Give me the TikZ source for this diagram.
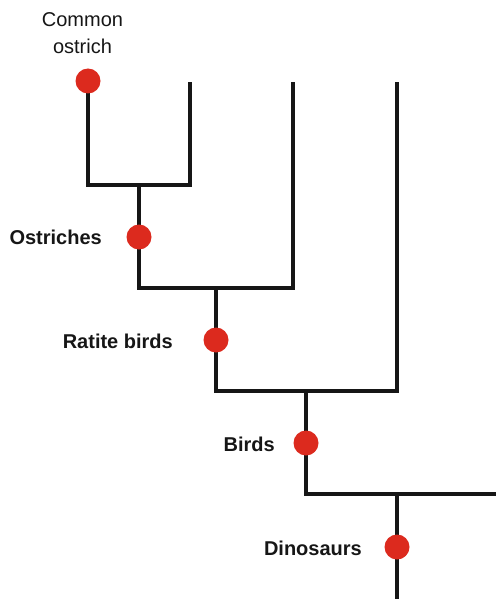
\documentclass[tikz,border=0pt]{standalone}
\usepackage{fontspec}
\setmainfont{Liberation Sans}
\definecolor{treeblack}{HTML}{161616}
\definecolor{dotred}{HTML}{DC2A1E}
\begin{document}
\begin{tikzpicture}[x=1pt,y=-1pt,
  branch/.style={draw=treeblack,line width=4pt,line join=miter},
  dot/.style={circle,fill=dotred,minimum size=25pt,inner sep=0pt},
  clade/.style={anchor=base east,font=\fontsize{20}{27}\selectfont\bfseries,text=treeblack,inner sep=0pt},
  leaflabel/.style={anchor=base,align=center,font=\fontsize{20}{27}\selectfont,text=treeblack,inner sep=0pt}]
\useasboundingbox (0,0) rectangle (496,599);
% leaf tips
\coordinate (l1) at (88,82);
\coordinate (l2) at (190,82);
\coordinate (l3) at (293,82);
\coordinate (l4) at (397,82);
% junctions
\coordinate (j1) at (139,185);
\coordinate (j2) at (216,288);
\coordinate (j3) at (306,391);
\coordinate (j4) at (397,494);
\coordinate (rightend) at (496,494);
\coordinate (root) at (397,599);
% branches
\path[branch] (l1) |- (j1) -| (l2);
\path[branch] (j1) |- (j2) -| (l3);
\path[branch] (j2) |- (j3) -| (l4);
\path[branch] (j3) |- (j4) -- (rightend);
\path[branch] (j4) -- (root);
% dots
\node[dot] (dco) at (88,81) {};
\node[dot] (dos) at (139,237) {};
\node[dot] (dra) at (216,340) {};
\node[dot] (dbi) at (306,443) {};
\node[dot] (ddi) at (397,547) {};
% labels
\node[leaflabel] (tco) at (82.5,54) {Common\\ostrich};
\node[clade] (tos) at (102,244) {Ostriches};
\node[clade] (tra) at (173,348) {Ratite birds};
\node[clade] (tbi) at (275,451) {Birds};
\node[clade] (tdi) at (362,555.5) {Dinosaurs};
\end{tikzpicture}
\end{document}
